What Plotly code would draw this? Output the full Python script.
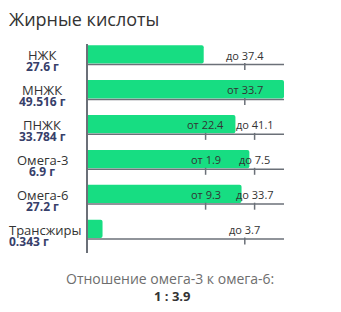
import plotly.graph_objects as go

# ---- data ----
names = ["НЖК", "МНЖК", "ПНЖК", "Омега-3", "Омега-6", "Трансжиры"]
amounts = [27.6, 49.516, 33.784, 6.9, 27.2, 0.343]
norm_from = [None, 33.7, 22.4, 1.9, 9.3, None]
norm_to = [37.4, None, 41.1, 7.5, 33.7, 3.7]
unit = "г"
ratio_title = "Отношение омега-3 к омега-6:"
chart_title = "Жирные кислоты"

# ---- styles ----
FONT = "Open Sans"
BAR = "#17dd82"
LINE = "#6b7078"
TXT = "#333333"
VAL = "#37406a"

SINGLE = 0.8
LO, HI = 0.6, 0.85


def scale(v, lo, hi):
    if lo is not None and hi is not None:
        if v <= lo:
            f = v / lo * LO
        else:
            f = LO + (v - lo) / (hi - lo) * (HI - LO)
    else:
        ref = lo if lo is not None else hi
        f = v / ref * SINGLE
    return min(f, 1.0)


n = len(names)
rows = list(range(n))
fracs = [scale(a, f, t) for a, f, t in zip(amounts, norm_from, norm_to)]

fig = go.Figure()
fig.add_trace(go.Bar(
    x=fracs, y=[r - 0.29 for r in rows], width=0.524, orientation="h",
    marker=dict(color=BAR, line=dict(width=0)), hoverinfo="skip",
))

tick_x, tick_y = [], []
annotations = []
shapes = []
for r, a, lo, hi in zip(rows, amounts, norm_from, norm_to):
    shapes.append(dict(type="line", xref="x", yref="y", x0=0, x1=1, y0=r, y1=r,
                       line=dict(color=LINE, width=1.5)))
    marks = []
    if lo is not None:
        marks.append(("от " + str(lo), scale(lo, lo, hi)))
    if hi is not None:
        marks.append(("до " + str(hi), scale(hi, lo, hi)))
    for label, fx in marks:
        tick_x.append(fx)
        tick_y.append(r + 0.06)
        annotations.append(dict(x=fx, y=r - 0.27, xref="x", yref="y", text=label,
                                showarrow=False, xanchor="center", yanchor="middle",
                                font=dict(family=FONT, size=11, color=TXT)))

fig.add_trace(go.Scatter(
    x=tick_x, y=tick_y, mode="markers", hoverinfo="skip",
    marker=dict(symbol="line-ns", size=5, line=dict(color=LINE, width=1.5)),
))

for r, name, a in zip(rows, names, amounts):
    wide = len(name) > 8
    xa = -0.412 if wide else -0.234
    anchor = "left" if wide else "center"
    annotations.append(dict(x=xa, y=r - 0.26, xref="paper", yref="y", text=name,
                            showarrow=False, xanchor=anchor, yanchor="middle",
                            font=dict(family=FONT, size=13, color=TXT)))
    annotations.append(dict(x=xa, y=r + 0.07, xref="paper", yref="y",
                            text="<b>%s %s</b>" % (a, unit),
                            showarrow=False, xanchor=anchor, yanchor="middle",
                            font=dict(family=FONT, size=12, color=VAL)))

# title
annotations.append(dict(x=-0.412, y=1.12, xref="paper", yref="paper", text=chart_title,
                        showarrow=False, xanchor="left", yanchor="middle",
                        font=dict(family=FONT, size=18, color=TXT)))
# ratio
ratio = amounts[names.index("Омега-6")] / amounts[names.index("Омега-3")]
annotations.append(dict(x=0.418, y=-0.12, xref="paper", yref="paper", text=ratio_title,
                        showarrow=False, xanchor="center", yanchor="middle",
                        font=dict(family=FONT, size=14, color="#6e6e6e")))
annotations.append(dict(x=0.428, y=-0.205, xref="paper", yref="paper",
                        text="<b>1 : %.1f</b>" % ratio,
                        showarrow=False, xanchor="center", yanchor="middle",
                        font=dict(family=FONT, size=13, color=TXT)))

fig.update_layout(
    width=341, height=312,
    margin=dict(l=88, r=57, t=44, b=59),
    paper_bgcolor="white", plot_bgcolor="white",
    showlegend=False, barcornerradius=2,
    shapes=shapes, annotations=annotations,
    xaxis=dict(range=[0, 1], visible=False, fixedrange=True),
    yaxis=dict(range=[5.401, -0.587], showline=True, linecolor=LINE, linewidth=2,
               showgrid=False, zeroline=False, showticklabels=False, ticks="",
               fixedrange=True),
)

fig.write_html("out.html", config={"displayModeBar": False})
